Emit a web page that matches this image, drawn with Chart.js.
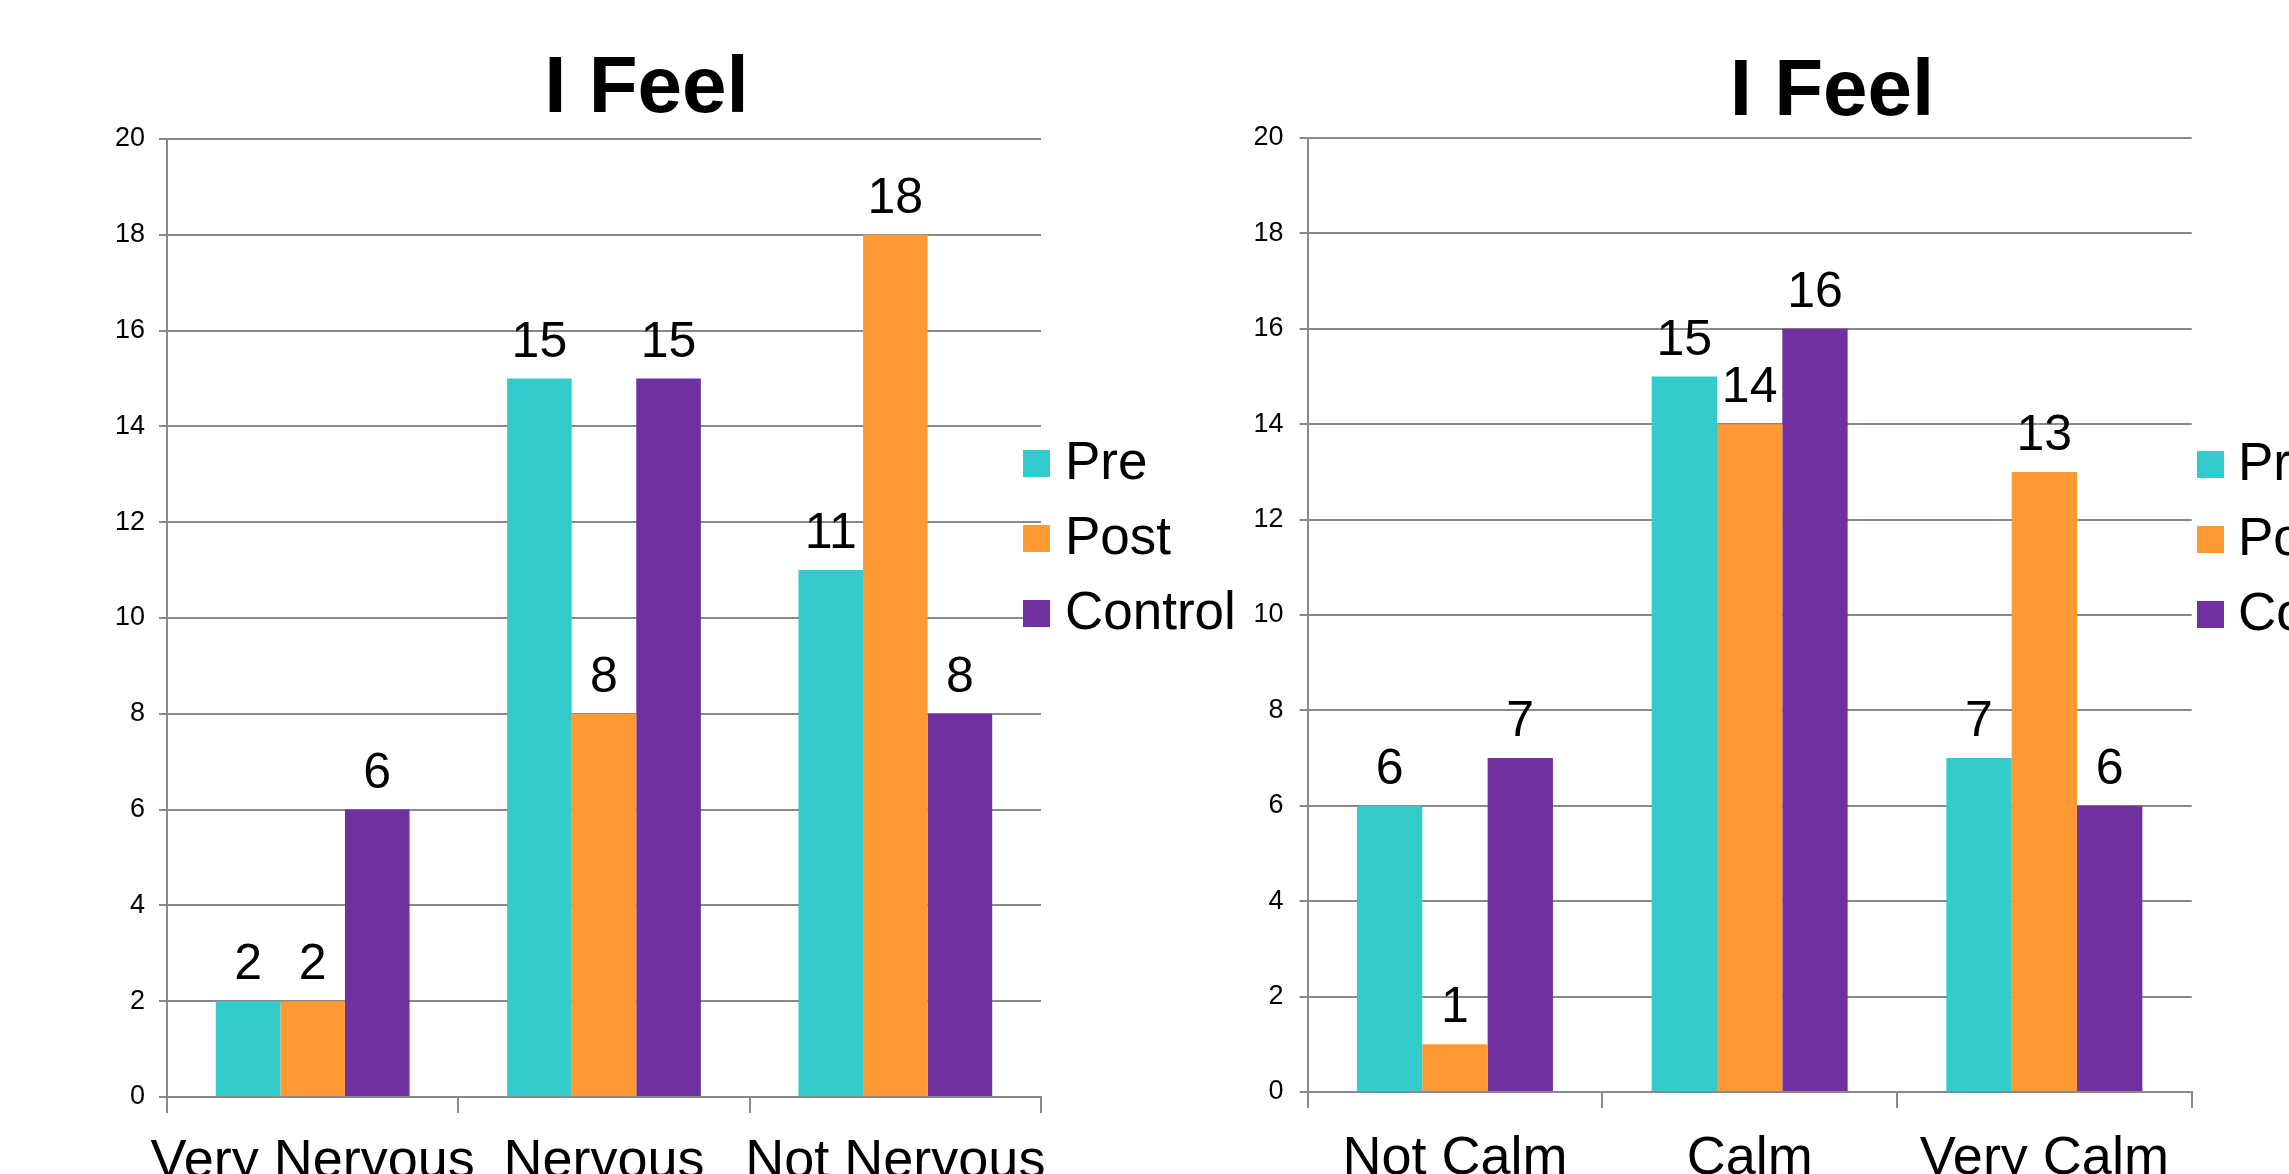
<!DOCTYPE html>
<html>
<head>
<meta charset="utf-8">
<title>I Feel</title>
<script src="https://cdn.jsdelivr.net/npm/chart.js@4/dist/chart.umd.min.js"></script>
<style>
  html, body { margin: 0; padding: 0; background: #fff; overflow: hidden; width: 2289px; height: 1174px; }
  .panel { position: absolute; top: 0; }
  #nervousPanel { left: 0; }
  #calmPanel { left: 1200px; }
  canvas { display: block; }
</style>
</head>
<body>
<div class="panel" id="nervousPanel"><canvas id="nervousChart" width="1293" height="1260"></canvas></div>
<div class="panel" id="calmPanel"><canvas id="calmChart" width="1264" height="1260"></canvas></div>
<script>
// ---- data ----
const chartTitle = 'I Feel';
const seriesNames = ['Pre', 'Post', 'Control'];
const seriesColors = ['#33CCCC', '#FF9933', '#7030A0'];

const nervousCategories = ['Very Nervous', 'Nervous', 'Not Nervous'];
const nervousPre = [2, 15, 11];
const nervousPost = [2, 8, 18];
const nervousControl = [6, 15, 8];

const calmCategories = ['Not Calm', 'Calm', 'Very Calm'];
const calmPre = [6, 15, 7];
const calmPost = [1, 14, 13];
const calmControl = [7, 16, 6];

const yMin = 0;
const yMax = 20;
const yStep = 2;

// ---- styling ----
const FONT = '"Liberation Sans", Arial, Helvetica, sans-serif';
const GRID = '#898989';

// numbers printed above each bar
const valueLabels = {
  id: 'valueLabels',
  afterDatasetsDraw(chart) {
    const ctx = chart.ctx;
    ctx.save();
    ctx.font = '50px ' + FONT;
    ctx.fillStyle = '#000';
    ctx.textAlign = 'center';
    ctx.textBaseline = 'alphabetic';
    chart.data.datasets.forEach((ds, i) => {
      const meta = chart.getDatasetMeta(i);
      meta.data.forEach((bar, j) => {
        ctx.fillText(String(ds.data[j]), bar.x, bar.y - 22);
      });
    });
    ctx.restore();
  }
};

// series key, placed as a layout box on the right of the plot
function makeSideKey(cfg) {
  return {
    id: 'sideKey',
    beforeInit(chart) {
      const box = {
        position: 'right',
        weight: 100,
        fullSize: false,
        options: {},
        left: 0, top: 0, right: 0, bottom: 0, width: 0, height: 0,
        isHorizontal() { return false; },
        update(maxWidth, maxHeight) {
          this.width = cfg.width;
          this.height = maxHeight;
        },
        draw() {
          const ctx = chart.ctx;
          const x0 = this.left + cfg.offsetX;
          ctx.save();
          ctx.font = cfg.size + 'px ' + FONT;
          ctx.textAlign = 'left';
          ctx.textBaseline = 'middle';
          chart.data.datasets.forEach((ds, i) => {
            const cy = cfg.firstY + i * cfg.step;
            ctx.fillStyle = ds.backgroundColor;
            ctx.fillRect(x0, cy - cfg.box / 2, cfg.box, cfg.box);
            ctx.fillStyle = '#000';
            ctx.fillText(ds.label, x0 + cfg.box + cfg.gap, cy + 1);
          });
          ctx.restore();
        }
      };
      Chart.layouts.addBox(chart, box);
    }
  };
}

function buildChart(canvasId, categories, pre, post, control, layout) {
  const values = [pre, post, control];
  return new Chart(document.getElementById(canvasId), {
    type: 'bar',
    data: {
      labels: categories,
      datasets: seriesNames.map((name, i) => ({
        label: name,
        data: values[i],
        backgroundColor: seriesColors[i],
        borderWidth: 0,
        categoryPercentage: 0.665,
        barPercentage: 1.0
      }))
    },
    options: {
      responsive: false,
      animation: false,
      devicePixelRatio: 1,
      layout: { padding: 0 },
      plugins: {
        legend: { display: false },
        tooltip: { enabled: false },
        title: {
          display: true,
          text: chartTitle,
          color: '#000',
          font: { family: FONT, size: 80, weight: 'bold', lineHeight: 1 },
          padding: { top: layout.titleTop, bottom: layout.titleBottom }
        }
      },
      scales: {
        x: {
          afterFit(scale) { scale.height = layout.xHeight; },
          grid: {
            display: true,
            drawOnChartArea: false,
            drawTicks: true,
            tickLength: 16,
            color: GRID,
            lineWidth: 2,
            offset: true
          },
          border: { display: true, color: GRID, width: 2 },
          ticks: {
            color: '#000',
            padding: layout.xPad,
            maxRotation: 0,
            autoSkip: false,
            font: { family: FONT, size: 54 }
          }
        },
        y: {
          min: yMin,
          max: yMax,
          afterFit(scale) { scale.width = layout.yWidth; },
          grid: {
            color: GRID,
            lineWidth: 2,
            drawTicks: true,
            tickLength: 8
          },
          border: { display: true, color: GRID, width: 2 },
          ticks: {
            stepSize: yStep,
            color: '#000',
            padding: layout.yPad,
            font: { family: FONT, size: 27 }
          }
        }
      }
    },
    plugins: [valueLabels, makeSideKey(layout.key)]
  });
}

buildChart('nervousChart', nervousCategories, nervousPre, nervousPost, nervousControl, {
  titleTop: 50, titleBottom: 9,
  xHeight: 163, xPad: 17,
  yWidth: 167, yPad: 14,
  key: { width: 252, offsetX: -18, firstY: 463.5, step: 75, box: 27, gap: 15, size: 53 }
});

buildChart('calmChart', calmCategories, calmPre, calmPost, calmControl, {
  titleTop: 53, titleBottom: 5,
  xHeight: 168, xPad: 19,
  yWidth: 107.6, yPad: 16,
  key: { width: 272.3, offsetX: 5.3, firstY: 464.5, step: 75, box: 27, gap: 14, size: 53 }
});
</script>
</body>
</html>
